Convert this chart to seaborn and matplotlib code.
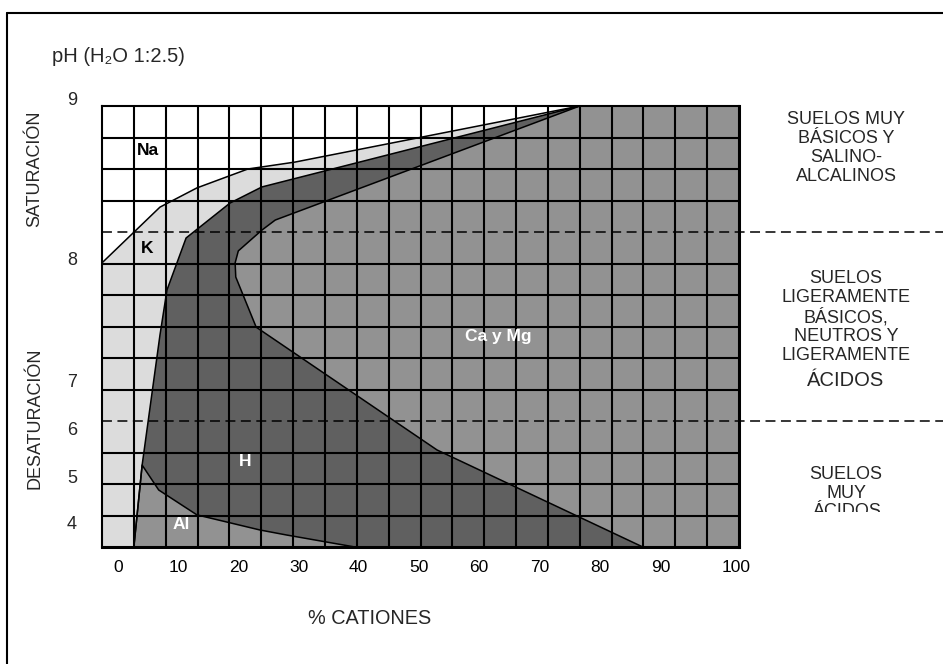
import numpy as np
import matplotlib.pyplot as plt
from matplotlib.lines import Line2D
from matplotlib.transforms import Bbox, TransformedBbox
import seaborn as sns

# Boundaries between cation zones
# x = % cations across the grid (0-100), y = grid rows from the bottom (0-14)
na_k_x = [0, 9.1, 14.9, 22.9, 30.3, 75]
na_k_y = [9.02, 10.79, 11.40, 12.0, 12.22, 14]

k_h_x = [5.0, 6.3, 9.1, 10.2, 13.2, 20.1, 25.1, 75]
k_h_y = [0, 2.6, 6.73, 8.16, 9.81, 10.92, 11.43, 14]

h_ca_x = [84.9, 52.6, 24.2, 21.0, 20.9, 21.4, 25.1, 27.2, 75]
h_ca_y = [0, 3.08, 6.98, 8.57, 9.02, 9.40, 10.06, 10.38, 14]

al_x = [5.0, 6.3, 8.9, 14.9, 24.8, 29.0, 39.7]
al_y = [0, 2.6, 1.81, 1.02, 0.54, 0.38, 0]

# axis labels
x_tick_pos = [2.5, 12.0, 21.5, 31.0, 40.2, 49.7, 59.2, 68.7, 78.2, 87.7, 99.5]
x_tick_labels = ["0", "10", "20", "30", "40", "50", "60", "70", "80", "90", "100"]
ph_pos = [14.16, 9.11, 5.21, 3.71, 2.16, 0.70]
ph_labels = ["9", "8", "7", "6", "5", "4"]

# dashed limits between soil classes
limits_y = [10, 4]

# zone names
zone_names = ["Na", "K", "H", "Al", "Ca y Mg"]
zone_x = [7.2, 7.1, 22.4, 12.4, 62.2]
zone_y = [12.6, 9.49, 2.70, 0.70, 6.67]
zone_colors = ["black", "black", "white", "white", "white"]

sns.set_theme(style="white")
plt.rcParams["font.family"] = ["Liberation Sans", "DejaVu Sans"]

light = "#dcdcdc"
dark = "#606060"
mid = "#929292"

fig = plt.figure(figsize=(9.43, 6.64), dpi=100)
ax = fig.add_axes([102 / 943, 117 / 664, 637 / 943, 441 / 664])
ax.set_facecolor(mid)
ax.set_xlim(0, 100)
ax.set_ylim(0, 14)

# filled zones
ax.fill(np.r_[na_k_x, 0], np.r_[na_k_y, 14], color="white", lw=0, zorder=1)
ax.fill(np.r_[0, k_h_x, na_k_x[::-1]], np.r_[0, k_h_y, na_k_y[::-1]],
        color=light, lw=0, zorder=1)
ax.fill(np.r_[k_h_x, h_ca_x[::-1]], np.r_[k_h_y, h_ca_y[::-1]],
        color=dark, lw=0, zorder=1)
ax.fill(al_x, al_y, color=mid, lw=0, zorder=1)

# grid
for gx in np.arange(5, 100, 5):
    ax.axvline(gx, color="black", lw=1.5, zorder=3)
for gy in range(1, 14):
    if gy not in limits_y:
        ax.axhline(gy, color="black", lw=1.5, zorder=3)

# boundary lines
for bx, by in [(na_k_x, na_k_y), (k_h_x, k_h_y), (h_ca_x, h_ca_y), (al_x, al_y)]:
    sns.lineplot(x=bx, y=by, sort=False, estimator=None, color="black",
                 lw=1.1, ax=ax, zorder=4)

for ly in limits_y:
    ax.plot([0, 132], [ly, ly], color="black", lw=1.1, dashes=(6.5, 3.6),
            clip_on=False, zorder=4)

for name, zx, zy, zc in zip(zone_names, zone_x, zone_y, zone_colors):
    ax.text(zx, zy, name, color=zc, fontsize=12.5, fontweight="bold",
            ha="center", va="center", zorder=5)

for side in ["left", "top"]:
    ax.spines[side].set_linewidth(1.5)
for side in ["bottom", "right"]:
    ax.spines[side].set_linewidth(2.2)
for sp in ax.spines.values():
    sp.set_color("black")
    sp.set_zorder(6)

ax.set_xticks(x_tick_pos)
ax.set_xticklabels(x_tick_labels, fontsize=12.5)
ax.tick_params(axis="x", length=0, pad=9, colors="black")
ax.set_yticks([])

for p, lab in zip(ph_pos, ph_labels):
    ax.text(-0.047, p, lab, transform=ax.get_yaxis_transform(), fontsize=13,
            ha="center", va="center")

fig.text(52 / 943, 1 - 57 / 664, "pH (H\u2082O 1:2.5)", fontsize=14.5,
         ha="left", va="center")
fig.text(35 / 943, 1 - 169 / 664, "SATURACIÓN", rotation=90, fontsize=13,
         ha="center", va="center")
fig.text(35 / 943, 1 - 418 / 664, "DESATURACIÓN", rotation=90, fontsize=13,
         ha="center", va="center")
fig.text(370 / 943, 1 - 618 / 664, "% CATIONES", fontsize=14.3,
         ha="center", va="center")

# soil classes on the right
fig.text(846 / 943, 1 - 148 / 664, "SUELOS MUY\nBÁSICOS Y\nSALINO-\nALCALINOS",
         fontsize=13, ha="center", va="center", linespacing=1.15)
fig.text(846 / 943, 1 - 317 / 664,
         "SUELOS\nLIGERAMENTE\nBÁSICOS,\nNEUTROS Y\nLIGERAMENTE",
         fontsize=13, ha="center", va="center", linespacing=1.15)
fig.text(846 / 943, 1 - 381 / 664, "ÁCIDOS", fontsize=14.5,
         ha="center", va="center")
t3 = fig.text(846 / 943, 1 - 493 / 664, "SUELOS\nMUY\nÁCIDOS",
              fontsize=13, ha="center", va="center", linespacing=1.1)
t3.set_clip_box(TransformedBbox(Bbox([[0, 1 - 512 / 664], [1, 1]]), fig.transFigure))
t3.set_clip_on(True)

# outer frame (top and left only)
fig.add_artist(Line2D([7 / 943, 1], [1 - 13 / 664] * 2, transform=fig.transFigure,
                      color="black", lw=1.5))
fig.add_artist(Line2D([7 / 943] * 2, [0, 1 - 13 / 664], transform=fig.transFigure,
                      color="black", lw=1.5))

fig.savefig("out.png", dpi=100)
plt.close(fig)
